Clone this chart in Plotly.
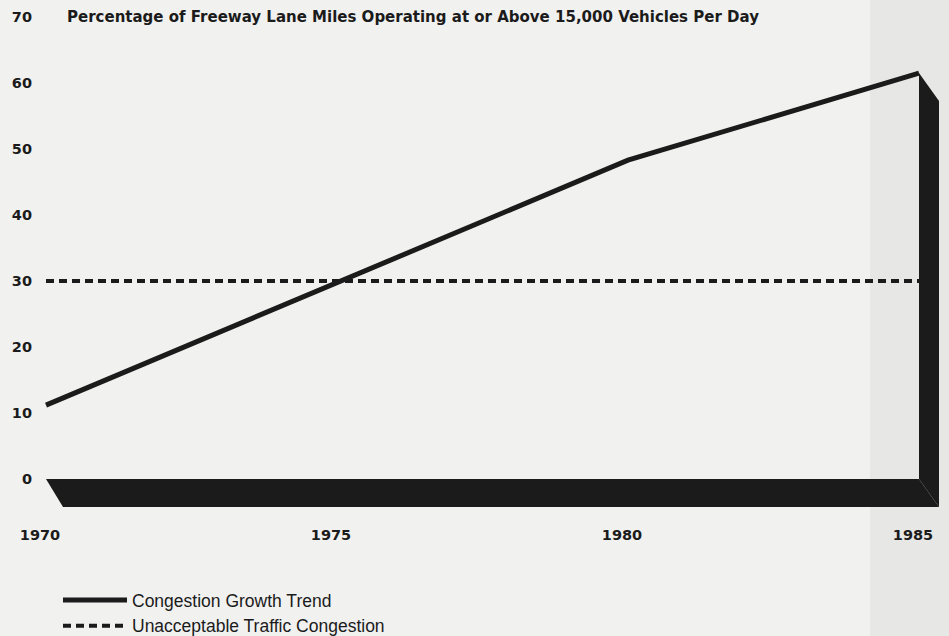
import plotly.graph_objects as go

# ---- data ----
years = [1970, 1980, 1985]
congestion = [11.2, 48.3, 61.5]
threshold_years = [1970, 1985]
threshold = [30, 30]
x_ticks = [1970, 1975, 1980, 1985]
y_ticks = [0, 10, 20, 30, 40, 50, 60, 70]
title_text = "Percentage of Freeway Lane Miles Operating at or Above 15,000 Vehicles Per Day"
series_names = ["Congestion Growth Trend", "Unacceptable Traffic Congestion"]

# ---- geometry / style ----
W, H = 949, 636
px_per_year = 58.2
px_per_unit = 6.6
left_px, right_px = 40, 945
top_px, bottom_px = 10, 512
zero_px, x0_px = 479, 46
x_lo = years[0] - (x0_px - left_px) / px_per_year
x_hi = years[0] + (right_px - x0_px) / px_per_year
y_hi = (zero_px - top_px) / px_per_unit
y_lo = -(bottom_px - zero_px) / px_per_unit
dx = 20 / px_per_year   # 3D depth, horizontal
dy = 28 / px_per_unit   # 3D depth, vertical
ink = "#1b1b1b"
bg = "#f1f1f0"
font_bold = "DejaVu Sans"

fig = go.Figure()
fig.add_trace(go.Scatter(x=years, y=congestion, mode="lines", name=series_names[0],
                         line=dict(color=ink, width=5), cliponaxis=False))
fig.add_trace(go.Scatter(x=threshold_years, y=threshold, mode="lines", name=series_names[1],
                         line=dict(color=ink, width=4, dash="8px,5px")))

x_end = years[-1]
v_end = congestion[-1]
# floor slab
fig.add_shape(type="path", xref="x", yref="y", layer="above",
              path=f"M{years[0]},0 L{x_end},0 L{x_end+dx},{-dy} L{years[0]+dx*0.85},{-dy} Z",
              fillcolor=ink, line=dict(width=0))
# right wall
fig.add_shape(type="path", xref="x", yref="y", layer="above",
              path=f"M{x_end},{v_end} L{x_end+dx},{v_end-dy} L{x_end+dx},{-dy} L{x_end},0 Z",
              fillcolor=ink, line=dict(width=0))
# grey paper strip on right
fig.add_shape(type="rect", xref="paper", yref="paper", layer="below",
              x0=(870-left_px)/(right_px-left_px), x1=1.05, y0=-0.3, y1=1.05,
              fillcolor="#e7e7e6", line=dict(width=0))

fig.add_annotation(text="<b>" + title_text + "</b>", xref="paper", yref="y",
                   x=(65-left_px)/(right_px-left_px), y=70, xanchor="left", yanchor="middle",
                   showarrow=False, font=dict(family=font_bold, size=15, color=ink))

fig.update_layout(
    width=W, height=H,
    margin=dict(l=left_px, r=W-right_px, t=top_px, b=H-bottom_px, autoexpand=False),
    paper_bgcolor=bg, plot_bgcolor="rgba(0,0,0,0)",
    showlegend=True,
    legend=dict(xref="container", yref="container", x=58/W, y=1-582/H,
                xanchor="left", yanchor="top", bgcolor="rgba(0,0,0,0)",
                font=dict(family="Liberation Sans", size=17.5, color=ink),
                tracegroupgap=0, itemwidth=64),
    xaxis=dict(range=[x_lo, x_hi], tickvals=x_ticks, ticktext=[f"<b>{t}</b>" for t in x_ticks],
               showgrid=False, zeroline=False, showline=False, ticks="",
               ticklabelstandoff=12, ticklabelshift=-6,
               tickfont=dict(family=font_bold, size=14.5, color=ink)),
    yaxis=dict(range=[y_lo, y_hi], tickvals=y_ticks, ticktext=[f"<b>{t}</b>" for t in y_ticks],
               showgrid=False, zeroline=False, showline=False, ticks="",
               ticklabelstandoff=7,
               tickfont=dict(family=font_bold, size=14.5, color=ink)),
)

fig.write_html("out.html", config={"displayModeBar": False},
               post_script="document.body.style.margin='0';document.body.style.overflow='hidden';")
